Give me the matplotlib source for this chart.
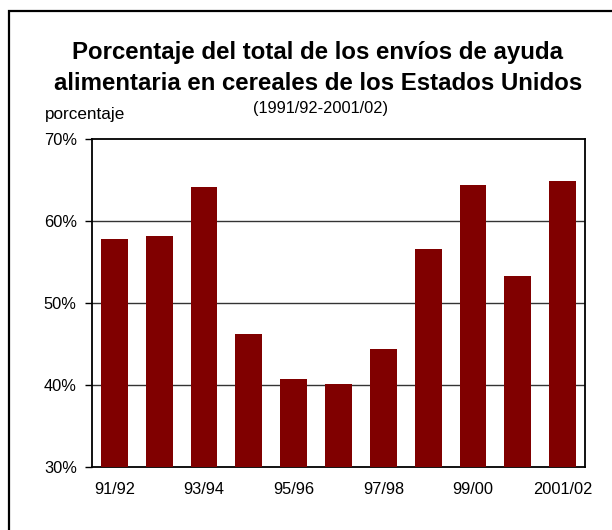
import matplotlib
matplotlib.use("Agg")
import matplotlib.pyplot as plt
from matplotlib.patches import Rectangle

categories = ["91/92", "92/93", "93/94", "94/95", "95/96", "96/97",
              "97/98", "98/99", "99/00", "2000/01", "2001/02"]
values = [57.8, 58.2, 64.1, 46.2, 40.7, 40.1, 44.4, 56.6, 64.4, 53.3, 64.9]
tick_labels = ["91/92", "", "93/94", "", "95/96", "", "97/98", "", "99/00", "", "2001/02"]
yticks = [30, 40, 50, 60, 70]

plt.rcParams['font.family'] = ['Liberation Sans', 'DejaVu Sans']

W, H = 612, 530
fig = plt.figure(figsize=(W/100, H/100), dpi=100)

# outer border (left and top visible; right/bottom run off the image)
fig.patches.append(Rectangle((9/W, -0.05), 1.2, (H-11)/H + 0.05, transform=fig.transFigure,
                             fill=False, edgecolor='black', linewidth=1.6))

left, right, top, bottom = 92, 585, 139, 467
ax = fig.add_axes([left/W, 1 - bottom/H, (right-left)/W, (bottom-top)/H])

x = range(len(categories))
ax.bar(x, [v - 30 for v in values], bottom=30, width=0.6, color='#800000', zorder=3)

ax.set_ylim(30, 70)
ax.set_xlim(-0.5, len(categories) - 0.5)
ax.set_yticks(yticks)
ax.set_yticklabels([f"{t}%" for t in yticks], fontsize=11.8)
ax.set_xticks(list(x))
ax.set_xticklabels(tick_labels, fontsize=11.8)
ax.tick_params(axis='x', length=0, pad=11)
ax.tick_params(axis='y', length=5, width=1, pad=6, direction='out')
for y in [40, 50, 60]:
    ax.axhline(y, color='#333333', linewidth=1, zorder=1)
for s in ax.spines.values():
    s.set_linewidth(1.3)
    s.set_color('black')

fig.text(318/W, 1 - 52/H, "Porcentaje del total de los envíos de ayuda",
         ha='center', va='center', fontsize=17.3, fontweight='bold')
fig.text(318/W, 1 - 84/H, "alimentaria en cereales de los Estados Unidos",
         ha='center', va='center', fontsize=17.3, fontweight='bold')
fig.text(320/W, 1 - 108/H, "(1991/92-2001/02)", ha='center', va='center', fontsize=11.8)
fig.text(45/W, 1 - 114/H, "porcentaje", ha='left', va='center', fontsize=12.3)

fig.savefig("out.png", dpi=100)
